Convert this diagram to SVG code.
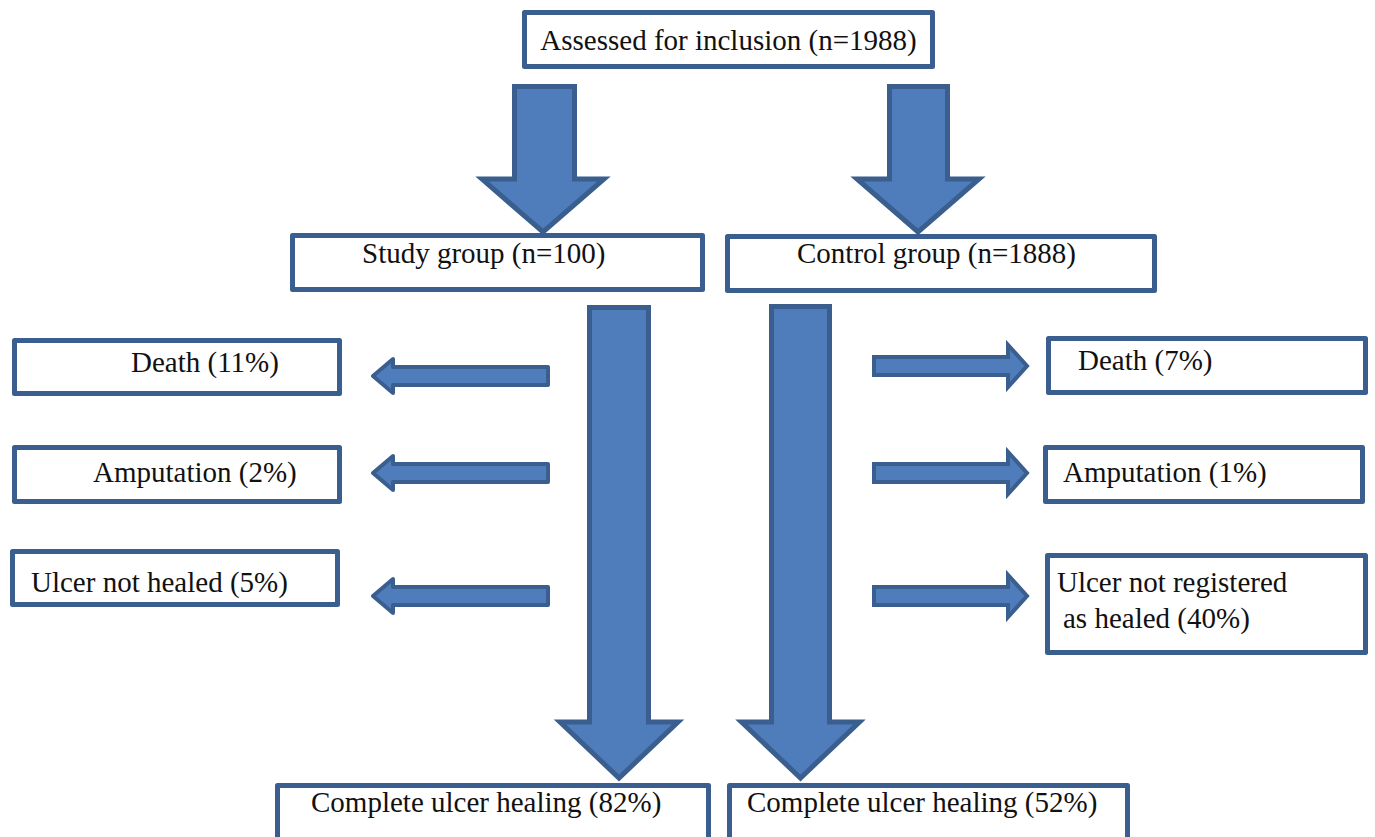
<svg xmlns="http://www.w3.org/2000/svg" width="1375" height="837" viewBox="0 0 1375 837">
<style>
.box{fill:#ffffff;stroke:#3a5f8f;stroke-width:5;stroke-linejoin:round}
.t{font-family:"Liberation Serif","Times New Roman",serif;font-size:29px;fill:#111111}
.big{fill:#4f7dbb;stroke:#3a5f8f;stroke-width:5;stroke-linejoin:miter;stroke-miterlimit:10}
.sl{fill:#4f7dbb;stroke:#3a5f8f;stroke-width:4;stroke-linejoin:round}
.sr{fill:#4f7dbb;stroke:#3a5f8f;stroke-width:4;stroke-linejoin:miter;stroke-miterlimit:10}
</style>
<rect width="1375" height="837" fill="#ffffff"/>
<g id="assessed"><rect class="box" x="524.5" y="12.5" width="408" height="54"/><text class="t" x="728.5" y="50" text-anchor="middle">Assessed for inclusion (n=1988)</text></g>
<g id="study"><rect class="box" x="292.5" y="235.5" width="410" height="54"/><text class="t" x="362" y="263">Study group (n=100)</text></g>
<g id="control"><rect class="box" x="727.5" y="236.5" width="427" height="54"/><text class="t" x="797" y="263">Control group (n=1888)</text></g>
<g id="death-study"><rect class="box" x="14.5" y="340.5" width="325" height="53"/><text class="t" x="131" y="372">Death (11%)</text></g>
<g id="amputation-study"><rect class="box" x="14.5" y="447.5" width="325" height="54"/><text class="t" x="93" y="482">Amputation (2%)</text></g>
<g id="notheal-study"><rect class="box" x="12.5" y="551.5" width="325" height="53"/><text class="t" x="31" y="592">Ulcer not healed (5%)</text></g>
<g id="death-control"><rect class="box" x="1048.5" y="338.5" width="317" height="54"/><text class="t" x="1078" y="370">Death (7%)</text></g>
<g id="amputation-control"><rect class="box" x="1045.5" y="447.5" width="317" height="54"/><text class="t" x="1063" y="482">Amputation (1%)</text></g>
<g id="notheal-control"><rect class="box" x="1047.5" y="555.5" width="318" height="97"/><text class="t" x="1057" y="592">Ulcer not registered</text><text class="t" x="1063" y="628">as healed (40%)</text></g>
<g id="healing-study"><rect class="box" x="277.5" y="785.5" width="431" height="60"/><text class="t" x="311" y="812">Complete ulcer healing (82%)</text></g>
<g id="healing-control"><rect class="box" x="729.5" y="785.5" width="398" height="60"/><text class="t" x="747" y="812">Complete ulcer healing (52%)</text></g>
<g id="connectors">
<path class="big" d="M514.5,86.5 H574.5 V179 H604 L543,232 L482,179 H514.5 Z"/>
<path class="big" d="M889.5,86.5 H947.5 V179 H979 L918,232 L857,179 H889.5 Z"/>
<path class="big" d="M589.5,307.5 H648.5 V722 H678 L619,778 L560,722 H589.5 Z"/>
<path class="big" d="M771.5,306.5 H829.5 V722 H859.5 L800.5,778 L741.5,722 H771.5 Z"/>
<path class="sl" d="M548,367 V385 H393 V393 L373,376 L393,359 V367 Z"/>
<path class="sl" d="M548,464 V482 H393 V490 L373,473 L393,456 V464 Z"/>
<path class="sl" d="M548,587 V605 H393 V613 L373,596 L393,579 V587 Z"/>
<path class="sr" d="M874,357 H1008 V345 L1027,366 L1008,387 V375 H874 Z"/>
<path class="sr" d="M874,464 H1008 V452 L1027,473 L1008,494 V482 H874 Z"/>
<path class="sr" d="M874,587 H1008 V575 L1027,596 L1008,617 V605 H874 Z"/>
</g>
</svg>
